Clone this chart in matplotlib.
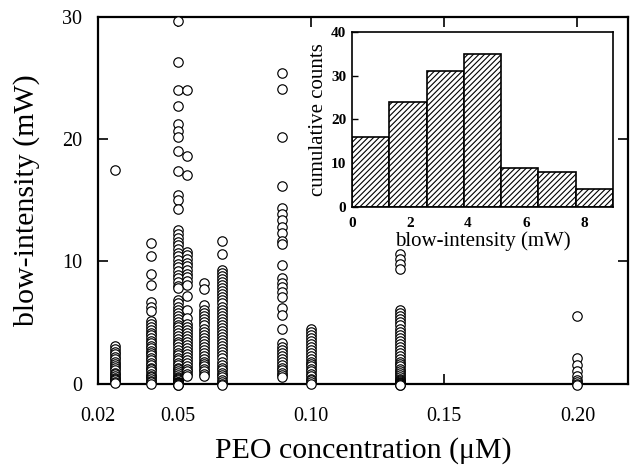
import matplotlib
matplotlib.use('Agg')
import matplotlib.pyplot as plt

plt.rcParams['font.family'] = ['Liberation Serif', 'DejaVu Serif']
plt.rcParams['hatch.linewidth'] = 0.8

# ---- main scatter data: PEO concentration (uM) and blow-intensity (mW) ----
conc = [0.0265, 0.040, 0.050, 0.0535, 0.060, 0.0668, 0.089, 0.100, 0.1333, 0.200]

col_0265 = [17.5, 3.1, 2.85, 2.6, 2.4, 2.2, 2.0, 1.8, 1.6, 1.4, 1.25, 1.1, 0.9, 0.75,
            0.6, 0.45, 0.35, 0.25, 0.15, 0.05]
col_040 = [11.5, 10.4, 9.0, 8.1, 6.7, 6.3, 5.9, 5.1, 4.85, 4.6, 4.4, 4.15, 3.95, 3.7,
           3.5, 3.3, 3.1, 2.9, 2.7, 2.5, 2.3, 2.1, 1.9, 1.7, 1.5, 1.3, 1.15, 1.0,
           0.8, 0.65, 0.5, 0.35, 0.2, 0.1, 0.0]
col_050 = [29.7, 26.3, 24.0, 22.7, 21.2, 20.7, 20.2, 19.0, 17.4, 15.4, 15.0, 14.3,
           12.6, 12.2, 11.9, 11.6, 11.3, 11.0, 10.7, 10.4, 10.1, 9.8, 9.5, 9.2, 8.9,
           8.6, 8.3, 8.0, 7.8, 6.8, 6.55, 6.3, 6.05, 5.8, 5.55, 5.3, 5.05, 4.8, 4.6,
           4.35, 4.1, 3.9, 3.65, 3.4, 3.2, 2.95, 2.75, 2.5, 2.3, 2.1, 1.9, 1.7, 1.5,
           1.3, 1.15, 1.0, 0.85, 0.7, 0.55, 0.45, 0.35, 0.25, 0.15, 0.1, 0.05, 0.03,
           0.02, 0.01, 0.0, -0.05, -0.1, -0.15]
col_0535 = [24.0, 18.6, 17.1, 10.8, 10.5, 10.2, 9.9, 9.6, 9.3, 9.0, 8.7, 8.4, 8.1,
            7.2, 6.0, 5.4, 4.9, 4.65, 4.4, 4.15, 3.9, 3.65, 3.4, 3.15, 2.9, 2.65,
            2.4, 2.15, 1.9, 1.65, 1.4, 1.2, 1.0, 0.8, 0.6]
col_060 = [8.2, 7.7, 6.4, 6.0, 5.75, 5.5, 5.25, 5.0, 4.75, 4.5, 4.25, 4.0, 3.75, 3.5,
           3.25, 3.0, 2.75, 2.5, 2.25, 2.0, 1.8, 1.6, 1.4, 1.2, 1.0, 0.8, 0.6]
col_0668 = [11.7, 10.6, 9.3, 9.05, 8.8, 8.55, 8.3, 8.05, 7.8, 7.55, 7.3, 7.05, 6.8,
            6.55, 6.3, 6.05, 5.8, 5.55, 5.3, 5.05, 4.8, 4.55, 4.3, 4.05, 3.8, 3.55,
            3.3, 3.05, 2.8, 2.55, 2.3, 2.05, 1.8, 1.55, 1.3, 1.1, 0.9, 0.7, 0.5,
            0.3, 0.15, 0.0, -0.15]
col_089 = [25.4, 24.1, 20.2, 16.2, 14.4, 13.9, 13.4, 12.8, 12.3, 11.7, 11.4, 9.7,
           8.6, 8.2, 7.9, 7.5, 7.1, 6.2, 5.6, 4.5, 3.3, 3.0, 2.75, 2.5, 2.25, 2.0,
           1.8, 1.55, 1.3, 1.1, 0.9, 0.7, 0.5]
col_100 = [4.5, 4.25, 4.0, 3.75, 3.5, 3.25, 3.0, 2.75, 2.5, 2.25, 2.0, 1.8, 1.6,
           1.4, 1.2, 1.0, 0.8, 0.6, 0.4, 0.25, 0.1, 0.0]
col_1333 = [10.6, 10.2, 9.8, 9.4, 6.0, 5.75, 5.5, 5.25, 5.0, 4.75, 4.5, 4.25, 4.0,
            3.75, 3.5, 3.25, 3.0, 2.75, 2.5, 2.25, 2.0, 1.8, 1.6, 1.4, 1.2, 1.0,
            0.85, 0.7, 0.55, 0.4, 0.3, 0.2, 0.1, 0.05, 0.03, 0.01, 0.0, -0.05,
            -0.1, -0.15]
col_200 = [5.5, 2.1, 1.5, 1.0, 0.6, 0.3, 0.15, 0.0, -0.1]

columns = [col_0265, col_040, col_050, col_0535, col_060, col_0668,
           col_089, col_100, col_1333, col_200]

x_ticks = [0.02, 0.05, 0.10, 0.15, 0.20]
x_ticklabels = ['0.02', '0.05', '0.10', '0.15', '0.20']
y_ticks = [0, 10, 20, 30]

# ---- inset histogram data ----
bin_left = [0.0, 1.286, 2.571, 3.857, 5.143, 6.429, 7.714]
bin_width = 1.286
counts = [16, 24, 31, 35, 9, 8, 4]
inset_xticks = [0, 2, 4, 6, 8]
inset_yticks = [0, 10, 20, 30, 40]

fig = plt.figure(figsize=(6.31, 4.70), dpi=100)
ax = fig.add_axes([0.1547, 0.184, 0.8406, 0.780])

for xv, ys in zip(conc, columns):
    ax.scatter([xv] * len(ys), ys, s=46, facecolors='white', edgecolors='black',
               linewidths=0.85, clip_on=False, zorder=3)

ax.set_xlim(0.02, 0.219)
ax.set_ylim(0, 30)
ax.set_xticks(x_ticks)
ax.set_xticklabels(x_ticklabels)
ax.set_yticks(y_ticks)
ax.tick_params(direction='in', length=7, width=1.2, top=True, right=True,
               labelsize=14.5)
ax.tick_params(axis='x', pad=17)
ax.tick_params(axis='y', pad=11)
for sp in ax.spines.values():
    sp.set_linewidth(1.6)
ax.set_xlabel('PEO concentration (μM)', fontsize=21.5, labelpad=8)
ax.set_ylabel('blow-intensity (mW)', fontsize=21.5, labelpad=16)

axin = fig.add_axes([0.5578, 0.5596, 0.4136, 0.3723])
axin.bar(bin_left, counts, width=bin_width, align='edge', color='white',
         edgecolor='black', hatch='//////', linewidth=1.2, zorder=2)
axin.set_xlim(0, 9)
axin.set_ylim(0, 40)
axin.set_xticks(inset_xticks)
axin.set_yticks(inset_yticks)
axin.tick_params(direction='in', length=4, width=1.0, labelsize=11)
axin.tick_params(axis='x', pad=7)
axin.tick_params(axis='y', pad=4)
for lab in axin.get_xticklabels() + axin.get_yticklabels():
    lab.set_fontweight('bold')
for sp in axin.spines.values():
    sp.set_linewidth(1.2)
axin.set_xlabel('blow-intensity (mW)', fontsize=15, labelpad=1)
axin.set_ylabel('cumulative counts', fontsize=15, labelpad=2)

fig.savefig('out.png', dpi=100)
